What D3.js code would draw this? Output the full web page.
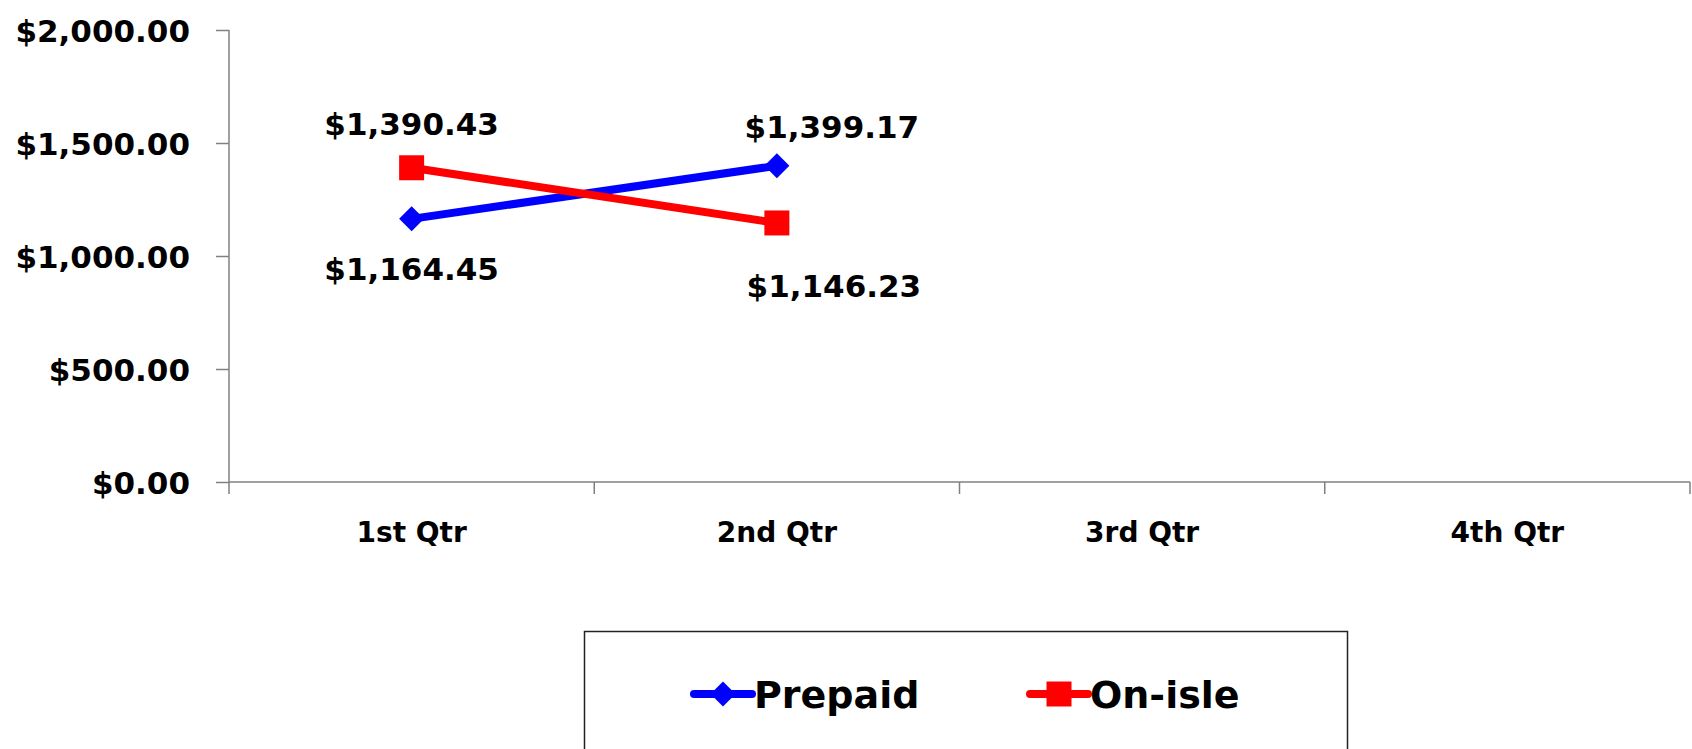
<!DOCTYPE html>
<html>
	<head>
		<script src="https://d3js.org/d3.v7.min.js"></script>
		<style>
			body {
				margin: 0;
				background: #fff;
			}

			text {
				font-family: 'DejaVu Sans', sans-serif;
				font-weight: bold;
				fill: #000;
			}

			.axis path,
			.axis line {
				stroke: #808080;
				stroke-width: 1.5px;
			}
		</style>
	</head>

	<body>
		<svg id="chart" width="1692" height="749"></svg>
		<script>
			// data
			const quarters = ['1st Qtr', '2nd Qtr', '3rd Qtr', '4th Qtr'];
			const seriesNames = ['Prepaid', 'On-isle'];
			const prepaid = [1164.45, 1399.17];
			const onIsle = [1390.43, 1146.23];
			const yTicks = [0, 500, 1000, 1500, 2000];

			const colors = { Prepaid: '#0000ff', 'On-isle': '#ff0000' };

			// label nudges (dx, dy from the point, to baseline)
			const labelNudge = {
				Prepaid: [
					[0, 61],
					[55, -28],
				],
				'On-isle': [
					[0, -33],
					[57, 74],
				],
			};

			const svg = d3.select('svg#chart');
			const plot = { left: 229, right: 1690, top: 30, bottom: 482 };

			const x = d3.scaleBand().domain(quarters).range([plot.left, plot.right]);
			const y = d3.scaleLinear().domain([0, 2000]).range([plot.bottom, plot.top]);
			const fmt = d3.format('$,.2f');

			// y axis
			const yAxis = svg
				.append('g')
				.attr('class', 'axis')
				.attr('transform', `translate(${plot.left},0)`)
				.call(d3.axisLeft(y).tickValues(yTicks).tickFormat(fmt).tickSize(13).tickSizeOuter(0).tickPadding(26));
			yAxis.select('.domain').remove();
			yAxis.append('line').attr('x1', 0).attr('x2', 0).attr('y1', plot.top).attr('y2', plot.bottom + 12);
			yAxis.selectAll('text').style('font-size', '31px').attr('dy', '0.36em');

			// x axis
			const xAxis = svg
				.append('g')
				.attr('class', 'axis')
				.attr('transform', `translate(0,${plot.bottom})`)
				.call(d3.axisBottom(x).tickSize(0).tickPadding(40));
			xAxis.select('.domain').remove();
			xAxis.append('line').attr('x1', plot.left).attr('x2', plot.right).attr('y1', 0).attr('y2', 0);
			xAxis
				.selectAll('line.bound')
				.data(quarters.slice(1).concat(['end']))
				.join('line')
				.attr('class', 'bound')
				.attr('x1', (d) => (d === 'end' ? plot.right : x(d)))
				.attr('x2', (d) => (d === 'end' ? plot.right : x(d)))
				.attr('y1', 0)
				.attr('y2', 12);
			xAxis.selectAll('.tick text').style('font-size', '28px').attr('dy', '0.71em');

			const series = [
				{ name: 'Prepaid', values: prepaid },
				{ name: 'On-isle', values: onIsle },
			];

			const cx = (i) => x(quarters[i]) + x.bandwidth() / 2;
			const line = d3
				.line()
				.x((d, i) => cx(i))
				.y((d) => y(d));

			const diamond = 'M0,-12.5L12.5,0L0,12.5L-12.5,0Z';
			const square = 'M-12.5,-12.5H12.5V12.5H-12.5Z';

			series.forEach((s) => {
				svg.append('path').datum(s.values).attr('d', line).attr('fill', 'none').attr('stroke', colors[s.name]).attr('stroke-width', 8);
			});

			series.forEach((s) => {
				svg
					.selectAll(null)
					.data(s.values)
					.join('path')
					.attr('d', s.name === 'Prepaid' ? diamond : square)
					.attr('transform', (d, i) => `translate(${cx(i)},${y(d)})`)
					.attr('fill', colors[s.name]);

				svg
					.selectAll(null)
					.data(s.values)
					.join('text')
					.attr('x', (d, i) => cx(i) + labelNudge[s.name][i][0])
					.attr('y', (d, i) => y(d) + labelNudge[s.name][i][1])
					.attr('text-anchor', 'middle')
					.style('font-size', '31px')
					.text((d) => fmt(d));
			});

			// legend
			const legend = svg.append('g');
			legend
				.append('rect')
				.attr('x', 584.5)
				.attr('y', 631.5)
				.attr('width', 763)
				.attr('height', 140)
				.attr('fill', 'none')
				.attr('stroke', '#222')
				.attr('stroke-width', 1.5);

			const legendX = [694, 1030];
			seriesNames.forEach((name, i) => {
				const g = legend.append('g').attr('transform', `translate(${legendX[i]},694)`);
				g.append('line').attr('x1', 0).attr('x2', 58).attr('stroke', colors[name]).attr('stroke-width', 8).attr('stroke-linecap', 'round');
				g.append('path')
					.attr('d', name === 'Prepaid' ? diamond : square)
					.attr('transform', 'translate(29,0)')
					.attr('fill', colors[name]);
				g.append('text').attr('x', 60).attr('dy', '0.36em').style('font-size', '38px').text(name);
			});
		</script>
	</body>
</html>
